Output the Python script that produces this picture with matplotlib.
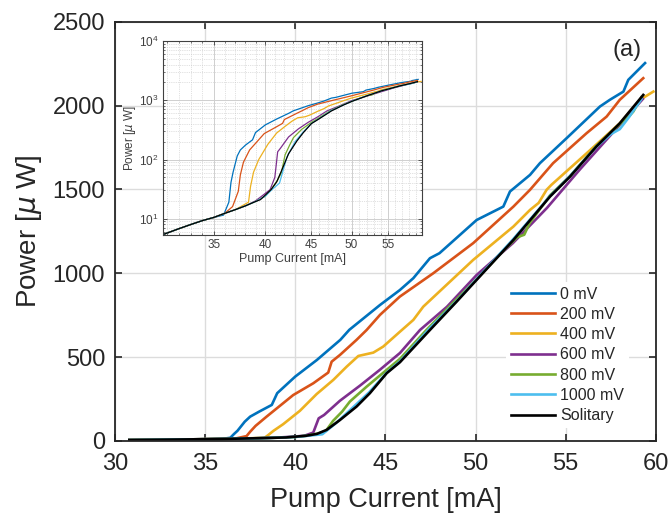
import numpy as np
import matplotlib
matplotlib.use("Agg")
import matplotlib.pyplot as plt
import matplotlib.ticker as mticker

plt.rcParams['font.family'] = ['Liberation Sans', 'DejaVu Sans']

x_0mV = [30.8, 32, 33, 34, 35, 35.9, 36.4, 36.6, 36.8, 37.2, 37.5, 38.0, 38.7, 39.0, 40.0, 41.2, 42.5,
         43.0, 44.7, 45.8, 46.55, 47.47, 48.0, 50.06, 51.54, 51.91, 53.02, 53.57, 55.05, 56.9, 57.45,
         58.2, 58.47, 59.4]
y_0mV = [5.5, 6.8, 8.0, 9.3, 10.5, 11.5, 19, 41, 61, 115, 145, 175, 215, 285, 384, 483, 603,
         663, 811, 900, 971, 1090, 1120, 1318, 1398, 1488, 1587, 1657, 1806, 1995, 2035,
         2084, 2154, 2254]

x_200mV = [30.8, 32, 33, 34, 35, 36, 36.75, 37.3, 37.5, 37.8, 38.41, 39.89, 41.0, 41.83, 42.02, 42.48,
           43.4, 43.96, 44.7, 45.8, 47.65, 49.87, 52.1, 53.02, 54.3, 56.16, 57.27, 58.0, 59.3]
y_200mV = [5.5, 6.8, 8.0, 9.3, 10.5, 12.3, 16, 29, 55, 90, 145, 274, 344, 408, 473, 513,
           603, 662, 752, 861, 1000, 1180, 1398, 1498, 1657, 1836, 1935, 2035, 2164]

x_400mV = [30.8, 32, 33, 34, 35, 36, 37, 38.3, 38.5, 38.8, 39.33, 40.26, 41.19, 42.11, 42.85, 43.5,
           44.33, 44.88, 45.81, 46.55, 47.1, 49.87, 52.1, 53.02, 53.5, 53.94, 54.2, 56.16, 58.0,
           59.12, 59.86]
y_400mV = [5.5, 6.8, 8.0, 9.3, 10.5, 12.3, 14.2, 19, 35, 61, 100, 180, 280, 364, 443, 507,
           527, 563, 652, 722, 801, 1080, 1279, 1378, 1420, 1498, 1527, 1716, 1895,
           2035, 2084]

x_600mV = [30.8, 32, 33, 34, 35, 36, 37, 38, 39, 39.9, 40.5, 41.0, 41.3, 41.6, 42.48, 43.59, 44.7,
           45.81, 46.92, 48.41, 50.06, 52.07, 53.96, 55.79, 57.62, 59.28]
y_600mV = [5.5, 6.8, 8.0, 9.3, 10.5, 12.3, 14.2, 16.5, 20, 26, 31, 50, 135, 155, 240, 330, 425,
           525, 662, 800, 990, 1180, 1390, 1620, 1840, 2040]

x_800mV = [30.8, 32, 33, 34, 35, 36, 37, 38, 39, 40.0, 40.6, 41.3, 41.7, 42.1, 42.6, 43.03, 43.96,
           45.07, 45.81, 47.3, 48.9, 50.06, 51.5, 52.3, 52.7, 53.0, 54.13, 55.24, 56.7, 58.0, 58.5,
           58.75, 59.2]
y_800mV = [5.5, 6.8, 8.0, 9.3, 10.5, 12.3, 14.2, 16.5, 19.5, 24, 31, 45, 60, 120, 175, 235, 324,
           424, 490, 665, 840, 965, 1130, 1215, 1230, 1300, 1465, 1580, 1760, 1890, 1935,
           1965, 2050]

x_1000mV = [30.8, 32, 33, 34, 35, 36, 37, 38, 39, 40.0, 40.6, 41.5, 42.3, 43.2, 44.1, 45.1, 45.81,
            47.4, 49.0, 50.06, 52.1, 54.13, 55.24, 56.7, 57.5, 58.0, 58.5, 59.2]
y_1000mV = [5.5, 6.8, 8.0, 9.3, 10.5, 12.3, 14.2, 16.5, 19.5, 24, 30, 40, 110, 200, 290, 410, 475,
            665, 840, 965, 1205, 1460, 1580, 1755, 1830, 1860, 1930, 2040]

x_sol = [30.8, 32, 33, 34, 35, 36, 37, 38, 39, 39.5, 40.6, 41.2, 41.74, 42.48, 43.4, 44.14, 45.07,
         45.81, 47.47, 48.95, 50.06, 52.1, 54.13, 55.24, 56.7, 58.0, 59.3]
y_sol = [5.5, 6.8, 8.0, 9.3, 10.5, 12.3, 14.2, 16.5, 19.5, 21, 31, 42, 66, 125, 205, 285, 404,
         470, 662, 831, 961, 1199, 1458, 1577, 1756, 1895, 2064]

rotulos = ['0 mV', '200 mV', '400 mV', '600 mV', '800 mV', '1000 mV', 'Solitary']
cores = ['#0072BD', '#D95319', '#EDB120', '#7E2F8E', '#77AC30', '#4DBEEE', '#000000']
curvas = [(x_0mV, y_0mV), (x_200mV, y_200mV), (x_400mV, y_400mV), (x_600mV, y_600mV),
          (x_800mV, y_800mV), (x_1000mV, y_1000mV), (x_sol, y_sol)]

cinza = '#262626'

fig = plt.figure(figsize=(6.72, 5.2), dpi=100)
ax = fig.add_axes([0.171, 0.152, 0.805, 0.806])

for (x, y), cor, rot in zip(curvas, cores, rotulos):
    ax.plot(x, y, color=cor, lw=1.9, label=rot)

ax.set_xlim(30, 60)
ax.set_ylim(0, 2500)
ax.set_xticks([30, 35, 40, 45, 50, 55, 60])
ax.set_yticks([0, 500, 1000, 1500, 2000, 2500])
ax.grid(True, color='#dcdcdc', lw=1.0)
ax.set_axisbelow(True)
ax.tick_params(direction='in', top=True, right=True, length=5, width=1.2,
               labelsize=17, colors=cinza)
ax.tick_params(axis='x', pad=9)
ax.tick_params(axis='y', pad=7)
for s in ax.spines.values():
    s.set_color(cinza)
    s.set_linewidth(1.3)
ax.set_xlabel('Pump Current [mA]', fontsize=19.5, color=cinza, labelpad=8)
ax.set_ylabel(r'Power [$\mu$ W]', fontsize=20, color=cinza, labelpad=6)
ax.text(0.946, 0.933, '(a)', transform=ax.transAxes, fontsize=17, color=cinza,
        ha='center', va='center')

leg = ax.legend(loc='lower right', bbox_to_anchor=(0.965, 0.012), fontsize=11.5, frameon=True,
                framealpha=1, edgecolor='none', facecolor='white', handlelength=2.8,
                handletextpad=0.3, labelspacing=0.33, borderpad=0.3)
for t in leg.get_texts():
    t.set_color(cinza)

# Gráfico interno em escala log-log
axi = fig.add_axes([0.2426, 0.548, 0.3854, 0.373])
for (x, y), cor in zip(curvas, cores):
    axi.loglog(x, y, color=cor, lw=0.9)
axi.set_xlim(30.7, 60)
axi.set_ylim(5.3, 1e4)
axi.xaxis.set_major_locator(mticker.FixedLocator([35, 40, 45, 50, 55]))
axi.xaxis.set_major_formatter(mticker.FormatStrFormatter('%d'))
axi.xaxis.set_minor_locator(mticker.FixedLocator([v for v in range(31, 61) if v % 5 != 0]))
axi.xaxis.set_minor_formatter(mticker.NullFormatter())
axi.yaxis.set_major_locator(mticker.FixedLocator([10, 100, 1000, 10000]))
axi.yaxis.set_minor_locator(mticker.LogLocator(base=10, subs=np.arange(2, 10)))
axi.yaxis.set_minor_formatter(mticker.NullFormatter())
axi.grid(True, which='major', color='#cfcfcf', lw=0.7)
axi.grid(True, which='minor', color='#c4c4c4', lw=0.5, ls=':')
axi.set_axisbelow(True)
axi.tick_params(which='both', direction='in', top=True, right=True, colors='#404040',
                labelsize=8.5, pad=3)
axi.tick_params(which='major', length=3, width=0.6)
axi.tick_params(which='minor', length=1.5, width=0.5)
for s in axi.spines.values():
    s.set_color('#404040')
    s.set_linewidth(0.8)
axi.set_xlabel('Pump Current [mA]', fontsize=9, color='#404040', labelpad=1)
axi.set_ylabel(r'Power [$\mu$ W]', fontsize=8.5, color='#404040', labelpad=1)

fig.savefig('out.png', dpi=100)
